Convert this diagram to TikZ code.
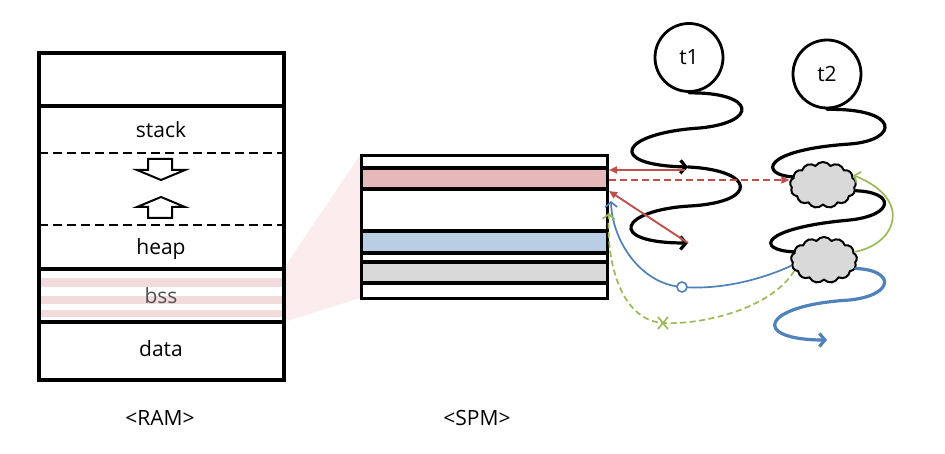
\documentclass[tikz,border=0pt]{standalone}
\usepackage{fontspec}
\setmainfont{Open Sans}
\usetikzlibrary{arrows.meta,shapes.symbols}
\definecolor{pinkA}{HTML}{E6B9B8}
\definecolor{blueA}{HTML}{B9CDE5}
\definecolor{grayA}{HTML}{D9D9D9}
\definecolor{stripe}{HTML}{F2DCDB}
\definecolor{wedge}{HTML}{FBEDED}
\definecolor{redL}{HTML}{C0504D}
\definecolor{blueL}{HTML}{4F81BD}
\definecolor{greenL}{HTML}{9BBB59}
\definecolor{bssgray}{HTML}{505050}
\begin{document}
\begin{tikzpicture}[x=1pt,y=-1pt,
  lbl/.style={font=\fontsize{21}{24}\selectfont, inner sep=0, anchor=base},
  frame/.style={line width=3.2pt},
  dashline/.style={line width=2.8pt, dash pattern=on 9pt off 5pt},
  blockarrow/.style={line width=2pt, fill=white, line join=miter},
  wave/.style={line width=3.2pt, line cap=round},
  barb/.style={-{Straight Barb[length=5.5pt,width=13pt]}},
  thinbarb/.style={-{Straight Barb[length=5pt,width=12pt]}},
  redtip/.style={-{Triangle[length=8pt,width=7pt]}},
  thread/.style={draw, circle, line width=2.8pt, minimum size=68pt, inner sep=0, font=\fontsize{21}{24}\selectfont},
  puff/.style={cloud, draw, fill=grayA, line width=2pt, cloud puffs=13, cloud puff arc=110, aspect=1.45, minimum width=66pt, minimum height=46pt, inner sep=0}
]
\useasboundingbox (0,0) rectangle (945,454);
\fill[white] (0,0) rectangle (945,454);

% projection wedge
\fill[wedge] (284,268) -- (360,155) -- (360,298) -- (284,322) -- cycle;

% RAM
\fill[stripe] (39,278) rectangle (284,287);
\fill[stripe] (39,296) rectangle (284,304);
\fill[stripe] (39,310) rectangle (284,317);
\draw[frame] (39,53) rectangle (284,380);
\draw[frame] (39,106) -- (284,106) (39,269) -- (284,269) (39,322) -- (284,322);
\draw[dashline] (39,153) -- (284,153) (39,225) -- (284,225);
\draw[blockarrow] (148,159) -- (172,159) -- (172,170) -- (185,170) -- (161,180) -- (137,170) -- (148,170) -- cycle;
\draw[blockarrow] (148,218) -- (172,218) -- (172,207) -- (185,207) -- (161,197) -- (137,207) -- (148,207) -- cycle;
\node[lbl] (stack) at (161,138) {stack};
\node[lbl] (heap) at (161,255) {heap};
\node[lbl, text=bssgray] (bss) at (161,304) {bss};
\node[lbl] (data) at (161,356) {data};
\node[lbl] (ram) at (160,425) {<RAM>};

% SPM
\fill[pinkA] (360,168) rectangle (606,189);
\fill[blueA] (360,231) rectangle (606,253);
\fill[grayA] (360,262) rectangle (606,283);
\node[draw, frame, minimum width=246pt, minimum height=143pt, inner sep=0, anchor=north west] (spm) at (360,154) {};
\draw[frame] (360,168) -- (606,168) (360,189) -- (606,189) (360,231) -- (606,231)
  (360,253) -- (606,253) (360,262) -- (606,262) (360,283) -- (606,283);
\node[lbl] (spmlbl) at (477,425) {<SPM>};

% threads
\node[thread] (t1) at (689,57.5) {t1};
\node[thread] (t2) at (827,74) {t2};
\node[puff] (c1) at (823,185) {};
\node[puff] (c2) at (824,260) {};

\coordinate (t1a) at (688,167);
\coordinate (t1b) at (688,243);
\coordinate (r1) at (685,170);
\coordinate (s1) at (609,170);
\coordinate (s2) at (609,180);
\coordinate (s3) at (609,191);
\coordinate (s4) at (611,201);
\coordinate (s5) at (609,213);
\coordinate (b1) at (827,340);

\draw[wave, barb] (t1.south) .. controls (755,92) and (760,122) .. (700,128)
  .. controls (620,133) and (605,165) .. (t1a);
\draw[wave, barb] (t1a) .. controls (755,170) and (760,202) .. (690,206)
  .. controls (620,210) and (605,243) .. (t1b);
\draw[wave] (t2.south) .. controls (900,108) and (900,140) .. (850,144)
  .. controls (760,150) and (760,175) .. (c1.165);
\draw[wave] (c1.-10) .. controls (895,192) and (895,215) .. (850,220)
  .. controls (760,228) and (755,250) .. (c2.165);
\draw[wave, blueL, barb] (c2.-15) .. controls (895,270) and (895,295) .. (850,300)
  .. controls (760,305) and (750,340) .. (b1);

% red connectors
\draw[redL, line width=1.9pt, redtip] (r1) -- (s1);
\draw[redL, line width=1.9pt, dash pattern=on 7pt off 4pt, redtip] (s2) -- (c1.west |- s2);
\draw[redL, line width=1.9pt, redtip] (t1b) -- (s3);

% blue thin connector
\draw[blueL, line width=1.7pt, thinbarb] (c2.190) .. controls (760,280) and (720,290) .. (682,287)
  .. controls (640,284) and (612,240) .. (s4);
\node[circle, draw=blueL, fill=white, line width=1.6pt, minimum size=10pt, inner sep=0] (m1) at (682,287) {};

% green connectors
\draw[greenL, line width=1.7pt, dash pattern=on 6pt off 3.5pt, thinbarb] (c2.200) .. controls (770,310) and (700,325) .. (663,323)
  .. controls (620,320) and (606,260) .. (s5);
\coordinate (m2) at (663,323);
\draw[greenL, line width=1.7pt] (m2) +(-5,-6) -- +(5,6) (m2) +(5,-6) -- +(-5,6);
\draw[greenL, line width=1.7pt, thinbarb] (c2.15) .. controls (895,245) and (915,200) .. (c1.18);
\end{tikzpicture}
\end{document}
